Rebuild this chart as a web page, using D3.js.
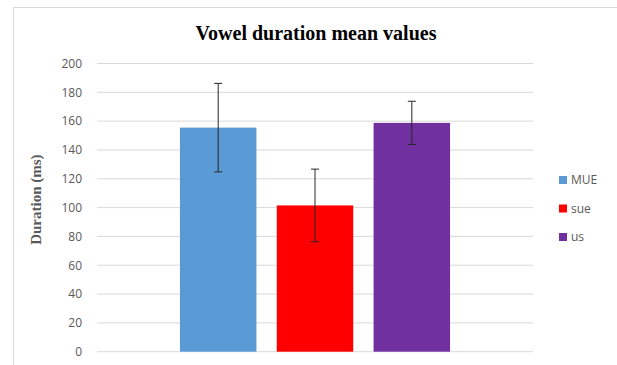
<!DOCTYPE html>
<html>
<head>
<meta charset="utf-8">
<script src="https://cdn.jsdelivr.net/npm/d3@7"></script>
<style>
  body { margin: 0; background: #fff; }
  svg { display: block; }
</style>
</head>
<body>
<div id="chart"></div>
<script>
// Vowel duration means with error bars (one group, three series)
const series = ["MUE", "sue", "us"];
const means = [155.5, 101.5, 158.8];
const errors = [30.7, 25.2, 15.0];
const colors = ["#5b9bd5", "#ff0000", "#7030a0"];
const yTicks = [0, 20, 40, 60, 80, 100, 120, 140, 160, 180, 200];

const W = 617, H = 365;
const m = { top: 63.5, right: 84, bottom: 13.3, left: 97 };
const innerW = W - m.left - m.right, innerH = H - m.top - m.bottom;

const svg = d3.select("#chart").append("svg").attr("width", W).attr("height", H);

// chart border
svg.append("rect")
  .attr("x", 13.5).attr("y", 7.5).attr("width", W + 10).attr("height", H + 10)
  .attr("fill", "none").attr("stroke", "#d9d9d9");

const g = svg.append("g").attr("transform", `translate(${m.left},${m.top})`);

const y = d3.scaleLinear().domain([0, 200]).range([innerH, 0]);

// outer band: single category, inner band: series
const x0 = d3.scaleBand().domain(["all"]).range([0, innerW]).paddingInner(0).paddingOuter(0.307);
const x1 = d3.scaleBand().domain(series).range([0, x0.bandwidth()]).paddingInner(0.21).paddingOuter(0);

// gridlines
g.append("g")
  .selectAll("line")
  .data(yTicks)
  .join("line")
  .attr("x1", 0).attr("x2", innerW)
  .attr("y1", d => y(d)).attr("y2", d => y(d))
  .attr("stroke", "#d9d9d9").attr("stroke-width", 1);

// y axis labels
const yAxis = g.append("g")
  .call(d3.axisLeft(y).tickValues(yTicks).tickSize(0).tickPadding(15));
yAxis.select(".domain").remove();
yAxis.selectAll("text")
  .style("font-family", "'Open Sans', 'Liberation Sans', sans-serif")
  .style("font-size", "12px")
  .attr("fill", "#595959");

// bars
const bx = d => x0("all") + x1(d);
g.selectAll("rect.bar")
  .data(series)
  .join("rect")
  .attr("class", "bar")
  .attr("x", d => bx(d))
  .attr("width", x1.bandwidth())
  .attr("y", (d, i) => y(means[i]))
  .attr("height", (d, i) => innerH - y(means[i]))
  .attr("fill", (d, i) => colors[i]);

// error bars
const eb = g.selectAll("g.err").data(series).join("g").attr("class", "err");
const cx = d => bx(d) + x1.bandwidth() / 2;
eb.append("line")
  .attr("x1", cx).attr("x2", cx)
  .attr("y1", (d, i) => y(means[i] + errors[i]))
  .attr("y2", (d, i) => y(means[i] - errors[i]))
  .attr("stroke", "#262626").attr("stroke-width", 1);
[1, -1].forEach(s => {
  eb.append("line")
    .attr("x1", d => cx(d) - 4).attr("x2", d => cx(d) + 4)
    .attr("y1", (d, i) => y(means[i] + s * errors[i]))
    .attr("y2", (d, i) => y(means[i] + s * errors[i]))
    .attr("stroke", "#262626").attr("stroke-width", 1);
});

// title
svg.append("text")
  .attr("x", 316).attr("y", 40)
  .attr("text-anchor", "middle")
  .style("font-family", "'Liberation Serif', 'Times New Roman', serif")
  .style("font-weight", "700")
  .style("font-size", "20px")
  .attr("fill", "#000")
  .text("Vowel duration mean values");

// y axis title
svg.append("text")
  .attr("transform", `translate(41,${m.top + innerH / 2 - 8}) rotate(-90)`)
  .attr("text-anchor", "middle")
  .style("font-family", "'Liberation Serif', 'Times New Roman', serif")
  .style("font-weight", "700")
  .style("font-size", "15px")
  .attr("fill", "#595959")
  .text("Duration (ms)");

// legend
const lg = svg.append("g").attr("transform", "translate(559,176)");
const items = lg.selectAll("g").data(series).join("g")
  .attr("transform", (d, i) => `translate(0,${i * 28.5})`);
items.append("rect")
  .attr("width", 8).attr("height", 8)
  .attr("fill", (d, i) => colors[i]);
items.append("text")
  .attr("x", 12).attr("y", 4).attr("dy", "0.35em")
  .style("font-family", "'Open Sans', 'Liberation Sans', sans-serif")
  .style("font-size", "12px")
  .attr("fill", "#595959")
  .text(d => d);
</script>
</body>
</html>
